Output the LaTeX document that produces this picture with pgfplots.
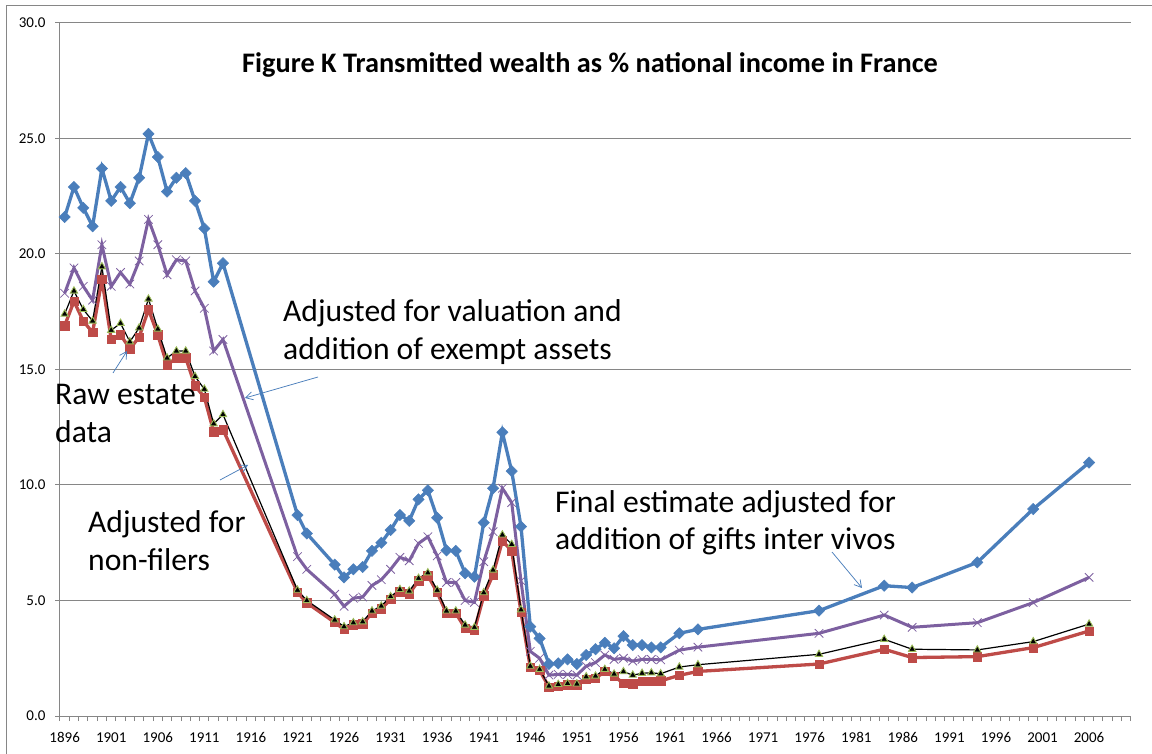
\documentclass[border=0pt]{standalone}
\usepackage{fontspec}
\setmainfont{Carlito}
\usepackage{pgfplots}
\pgfplotsset{compat=1.18}
\usepackage{pgfplotstable}
\usetikzlibrary{arrows.meta}

\definecolor{xlblue}{RGB}{74,126,187}
\definecolor{xlred}{RGB}{190,75,72}
\definecolor{xlgreen}{RGB}{155,187,89}
\definecolor{xlpurple}{RGB}{125,96,160}
\definecolor{xlgrid}{RGB}{134,134,134}

% final = gifts inter vivos added, valuation = valuation + exempt assets,
% nonfilers = adjusted for non-filers, raw = raw estate data
\pgfplotstableread{
year final valuation nonfilers raw
1896 21.6  18.3  17.4  16.9
1897 22.9  19.4  18.4  17.95
1898 22.0  18.6  17.6  17.1
1899 21.2  18.0  17.1  16.6
1900 23.7  20.4  19.45 18.9
1901 22.3  18.6  16.7  16.3
1902 22.9  19.2  17.0  16.5
1903 22.2  18.7  16.2  15.9
1904 23.3  19.7  16.8  16.4
1905 25.2  21.5  18.05 17.6
1906 24.2  20.4  16.75 16.5
1907 22.7  19.1  15.5  15.2
1908 23.3  19.75 15.8  15.5
1909 23.5  19.7  15.8  15.5
1910 22.3  18.4  14.7  14.3
1911 21.1  17.65 14.15 13.8
1912 18.8  15.8  12.65 12.3
1913 19.6  16.3  13.05 12.4
1921 8.7   6.9   5.45  5.35
1922 7.9   6.35  5.0   4.9
1925 6.55  5.27  4.16  4.05
1926 6.0   4.75  3.87  3.75
1927 6.35  5.1   4.04  3.95
1928 6.45  5.15  4.08  4.0
1929 7.15  5.65  4.55  4.45
1930 7.5   5.9   4.76  4.65
1931 8.05  6.35  5.17  5.05
1932 8.7   6.87  5.48  5.38
1933 8.45  6.72  5.41  5.3
1934 9.38  7.47  5.96  5.85
1935 9.77  7.76  6.2   6.08
1936 8.58  6.93  5.45  5.35
1937 7.17  5.78  4.55  4.45
1938 7.15  5.78  4.55  4.45
1939 6.18  5.0   3.94  3.8
1940 6.03  4.92  3.84  3.72
1941 8.37  6.68  5.34  5.2
1942 9.86  7.98  6.32  6.12
1943 12.28 9.86  7.84  7.58
1944 10.6  9.24  7.43  7.15
1945 8.2   5.85  4.6   4.5
1946 3.87  2.8   2.16  2.1
1947 3.36  2.5   2.02  1.98
1948 2.25  1.77  1.3   1.25
1949 2.28  1.8   1.37  1.3
1950 2.45  1.8   1.41  1.35
1951 2.25  1.77  1.39  1.35
1952 2.64  2.16  1.7   1.6
1953 2.89  2.31  1.73  1.63
1954 3.17  2.64  2.02  1.93
1955 2.93  2.45  1.82  1.72
1956 3.46  2.5   1.92  1.42
1957 3.07  2.38  1.77  1.4
1958 3.07  2.45  1.85  1.5
1959 2.97  2.45  1.87  1.5
1960 2.97  2.43  1.83  1.52
1962 3.58  2.85  2.12  1.76
1964 3.75  2.98  2.22  1.93
1977 4.56  3.58  2.67  2.25
1984 5.64  4.37  3.32  2.89
1987 5.56  3.84  2.89  2.53
1994 6.65  4.04  2.86  2.57
2000 8.96  4.91  3.22  2.96
2006 10.97 6.0   3.98  3.68
}\wealth

\begin{document}
\begin{tikzpicture}
\begin{axis}[
  at={(0pt,0pt)}, anchor=south west,
  scale only axis, width=1071pt, height=693pt,
  xmin=1895.5, xmax=2010.5, ymin=0, ymax=30,
  axis x line*=bottom, axis y line*=left,
  axis line style={xlgrid, line width=1pt},
  xtick={1896,1901,...,2006},
  minor xtick={1895.5,1896.5,...,2010.5},
  ytick={0,5,...,30},
  tick align=outside,
  major tick length=5pt, minor tick length=5pt,
  every tick/.style={xlgrid, line width=1pt},
  every major x tick/.append style={draw=none},
  ymajorgrids,
  major grid style={xlgrid, line width=1pt},
  /pgf/number format/assume math mode=true,
  tick label style={font=\fontsize{15}{18}\selectfont},
  xticklabel style={yshift=-8pt, /pgf/number format/1000 sep={}},
  yticklabel style={xshift=-6pt, /pgf/number format/.cd, fixed, fixed zerofill, precision=1},
]
\addplot[xlred, line width=3.3pt, mark=square*, mark size=4.2pt,
  mark options={solid, line width=0.5pt}] table[x=year, y=raw] {\wealth};
\addplot[black, line width=1.2pt, mark=triangle*, mark size=4.2pt,
  mark options={solid, fill=black, draw=xlgreen, line width=0.9pt}] table[x=year, y=nonfilers] {\wealth};
\addplot[xlpurple, line width=3pt, mark=x, mark size=6pt,
  mark options={solid, line width=0.8pt}] table[x=year, y=valuation] {\wealth};
\addplot[xlblue, line width=3.3pt, mark=square*, mark size=4pt,
  mark options={solid, rotate=45, line width=0.5pt}] table[x=year, y=final] {\wealth};
\end{axis}

% annotations in picture pixel coordinates (origin top left)
\begin{scope}[shift={(-60pt,716pt)}, x=1pt, y=-1pt]
  \draw[xlgrid, line width=1pt] (7,800) -- (7,6) -- (1200,6);
  \node[anchor=base, inner sep=0pt, font=\fontsize{28.3}{34}\selectfont\bfseries]
    at (590,73) {Figure K Transmitted wealth as \% national income in France};
  \begin{scope}[every node/.style={anchor=base west, inner sep=0pt, font=\fontsize{31.6}{38}\selectfont}]
    \node at (283,322) {Adjusted for valuation and};
    \node at (283,360) {addition of exempt assets};
    \node at (55,405) {Raw estate};
    \node at (55,443) {data};
    \node at (88,533) {Adjusted for};
    \node at (88,571) {non-filers};
    \node at (555,513) {Final estimate adjusted for};
    \node at (555,550) {addition of gifts inter vivos};
  \end{scope}
  \begin{scope}[xlblue, line width=0.75pt, -{Straight Barb[length=7pt, width=8pt]}]
    \draw (113,373) -- (127,351);
    \draw (318,377) -- (245,398);
    \draw (220,480) -- (248,465);
    \draw (832,552) -- (862,588);
  \end{scope}
  \pgfresetboundingbox
  \useasboundingbox (0,0) rectangle (1152,753);
\end{scope}
\end{tikzpicture}
\end{document}
